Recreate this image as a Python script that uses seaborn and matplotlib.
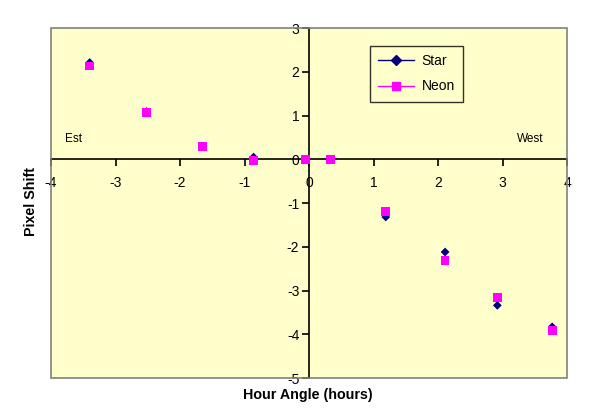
import pandas as pd
import seaborn as sns
import matplotlib.pyplot as plt
import numpy as np
from matplotlib.lines import Line2D
from matplotlib.patches import Rectangle

# hour angle (hours) and pixel shift for each series
hour_angle = [-3.40, -2.52, -1.65, -0.86, -0.05, 0.33, 1.19, 2.11, 2.92, 3.77]
star_shift = [2.21, 1.09, 0.29, 0.05, 0.0, 0.0, -1.32, -2.12, -3.34, -3.83]
neon_shift = [2.13, 1.07, 0.30, -0.02, 0.0, 0.0, -1.20, -2.31, -3.16, -3.92]

series_names = ['Star', 'Neon']
series_colors = {'Star': '#000080', 'Neon': '#FF00FF'}
series_markers = {'Star': 'D', 'Neon': 's'}

df = pd.DataFrame({
    'angle': hour_angle * 2,
    'shift': star_shift + neon_shift,
    'series': ['Star'] * len(star_shift) + ['Neon'] * len(neon_shift),
})

plt.rcParams['font.family'] = ['Liberation Sans', 'DejaVu Sans']

fig = plt.figure(figsize=(6, 4.12), dpi=100)
ax = fig.add_axes([51 / 600, 1 - 378 / 412, 516 / 600, 350 / 412])
ax.set_facecolor('#FFFFCC')

# neon drawn on top of star, like the original
for name in series_names:
    sub = df[df.series == name]
    sns.scatterplot(x='angle', y='shift', data=sub, ax=ax,
                    marker=series_markers[name], color=series_colors[name],
                    s=20 if name == 'Star' else 40, edgecolor='none',
                    legend=False, zorder=3, clip_on=False)

ax.set_xlim(-4, 4)
ax.set_ylim(-5, 3)
ax.set_xticks(range(-4, 5))
ax.set_yticks(range(-5, 4))

# axes cross at the origin
ax.spines['left'].set_position(('data', 0))
ax.spines['bottom'].set_position(('data', 0))
for s in ['left', 'bottom']:
    ax.spines[s].set_color('black')
    ax.spines[s].set_linewidth(1.2)
for s in ['top', 'right']:
    ax.spines[s].set_visible(False)
ax.add_patch(Rectangle((0, 0), 1, 1, transform=ax.transAxes, fill=False,
                       edgecolor='#808080', lw=1.2, zorder=5, clip_on=False))

ax.tick_params(axis='x', direction='out', length=5, width=1.2, labelsize=10, pad=7)
ax.tick_params(axis='y', direction='out', length=5, width=1.2, labelsize=10, pad=2)
ax.set_xticklabels([str(v) for v in range(-4, 5)])
ax.set_yticklabels([str(v) for v in range(-5, 4)])

ax.set_xlabel('')
ax.set_ylabel('')
fig.text(308 / 600, 1 - 395 / 412, 'Hour Angle (hours)', ha='center', va='center',
         fontsize=10.3, fontweight='bold')
fig.text(31 / 600, 1 - 202 / 412, 'Pixel Shift', ha='center', va='center',
         rotation=90, fontsize=10.3, fontweight='bold')

ax.text(-3.78, 0.47, 'Est', fontsize=8.5, ha='left', va='center')
ax.text(3.22, 0.47, 'West', fontsize=8.5, ha='left', va='center')

handles = [Line2D([0], [0], color=series_colors[n], marker=series_markers[n],
                  markersize=5 if n == 'Star' else 6, lw=1) for n in series_names]
leg = ax.legend(handles, series_names, loc='upper left',
                bbox_to_anchor=((370 - 51) / 516, 1 - (46 - 28) / 350),
                frameon=True, fancybox=False, fontsize=10, handlelength=2.6,
                borderpad=0.6, labelspacing=0.8, borderaxespad=0, handletextpad=0.5)
leg.get_frame().set_edgecolor('black')
leg.get_frame().set_facecolor('#FFFFCC')
leg.get_frame().set_linewidth(1.0)

fig.savefig('out.png', dpi=100)
